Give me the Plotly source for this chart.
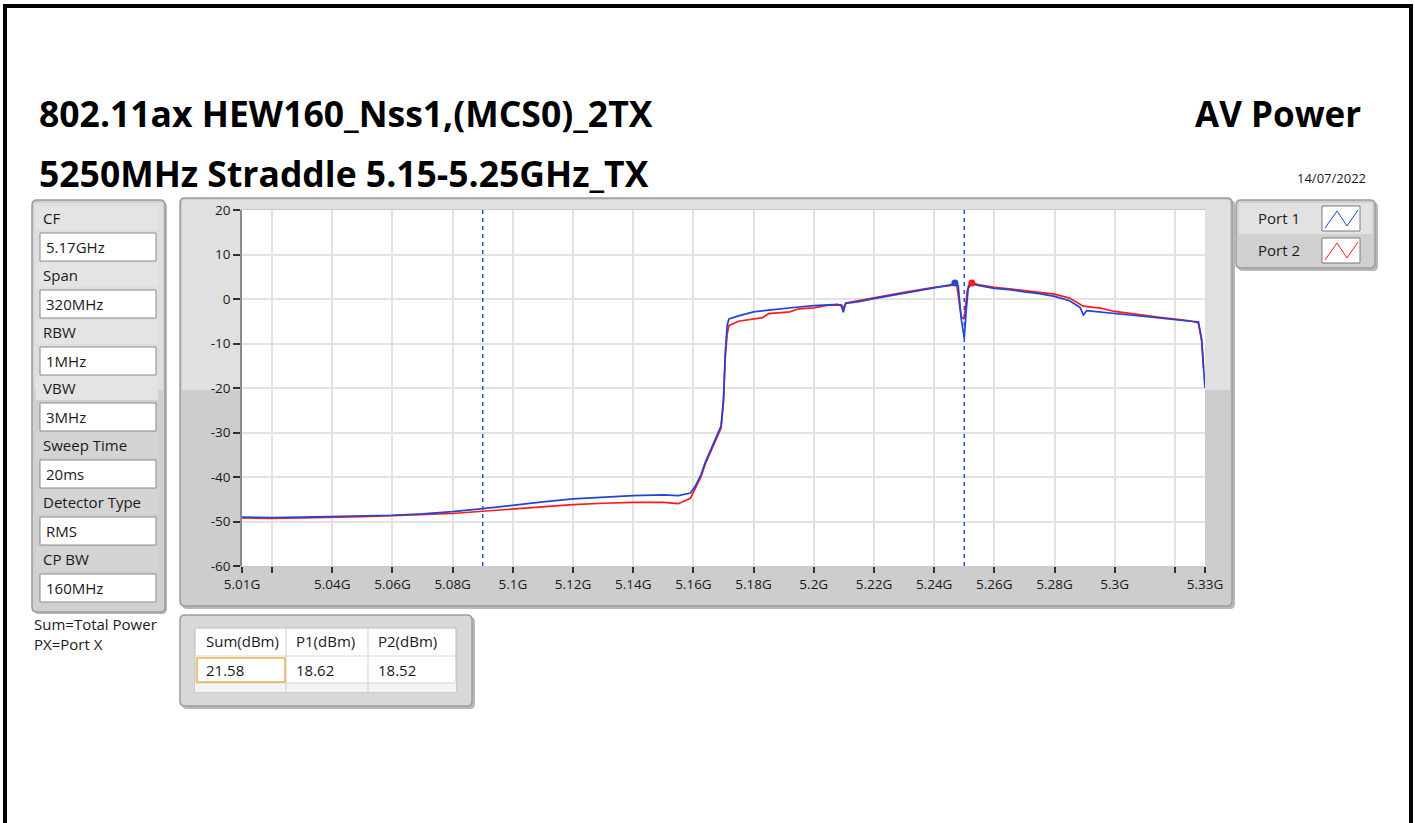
import plotly.graph_objects as go

W, H = 1415, 823

# ---------------- data ----------------
port1_freq = [5.010, 5.020, 5.030, 5.040, 5.050, 5.060, 5.070, 5.080, 5.090, 5.100,
              5.110, 5.120, 5.130, 5.140, 5.150, 5.155, 5.159, 5.1605, 5.1625, 5.164,
              5.166, 5.168, 5.1692, 5.170, 5.1706, 5.1712, 5.1718, 5.175, 5.180, 5.185,
              5.190, 5.195, 5.200, 5.205, 5.208, 5.2092, 5.2098, 5.2106, 5.215, 5.220,
              5.225, 5.230, 5.235, 5.240, 5.245, 5.2469, 5.2480, 5.2490, 5.2500, 5.2506,
              5.2514, 5.2525, 5.255, 5.260, 5.265, 5.270, 5.275, 5.280, 5.285, 5.2885,
              5.2896, 5.2907, 5.295, 5.300, 5.305, 5.310, 5.315, 5.320, 5.325, 5.3278,
              5.3289, 5.3295, 5.3300]
port1_dbm = [-49.0, -49.1, -49.0, -48.9, -48.8, -48.6, -48.3, -47.8, -47.1, -46.3,
             -45.6, -44.9, -44.5, -44.2, -44.0, -44.2, -43.6, -42.2, -39.5, -36.6,
             -33.5, -30.5, -28.5, -22.5, -12.0, -6.0, -4.5, -3.8, -2.9, -2.5,
             -2.1, -1.8, -1.5, -1.4, -1.2, -1.6, -3.0, -1.0, -0.6, 0.1,
             0.7, 1.3, 1.9, 2.4, 3.1, 3.6, 3.0, -4.5, -8.8, -3.0,
             3.0, 3.4, 3.0, 2.4, 2.1, 1.6, 1.2, 0.6, -0.4, -1.9,
             -3.6, -2.6, -2.9, -3.4, -3.6, -3.9, -4.3, -4.6, -5.0, -5.1,
             -9.0, -15.4, -20.0]

port2_freq = [5.010, 5.020, 5.030, 5.040, 5.050, 5.060, 5.070, 5.080, 5.090, 5.100,
              5.110, 5.120, 5.130, 5.140, 5.150, 5.155, 5.159, 5.1605, 5.1625, 5.164,
              5.166, 5.168, 5.1692, 5.170, 5.1706, 5.1712, 5.1718, 5.175, 5.180, 5.183,
              5.185, 5.190, 5.192, 5.195, 5.200, 5.203, 5.205, 5.2092, 5.2098, 5.2106,
              5.215, 5.220, 5.225, 5.230, 5.235, 5.240, 5.245, 5.2475, 5.2490, 5.2500,
              5.2510, 5.2525, 5.255, 5.260, 5.265, 5.270, 5.275, 5.280, 5.285, 5.2896,
              5.2928, 5.295, 5.300, 5.305, 5.310, 5.315, 5.320, 5.325, 5.3278, 5.3289,
              5.3295]
port2_dbm = [-49.2, -49.3, -49.2, -49.1, -48.9, -48.7, -48.5, -48.2, -47.7, -47.2,
             -46.7, -46.2, -45.9, -45.7, -45.7, -46.0, -44.8, -42.8, -40.0, -37.0,
             -34.0, -31.0, -29.0, -23.0, -13.0, -8.0, -6.0, -5.0, -4.4, -4.2,
             -3.3, -3.0, -2.9, -2.2, -2.0, -1.6, -1.4, -1.3, -2.2, -0.9,
             -0.4, 0.3, 0.9, 1.5, 2.1, 2.6, 3.0, 3.2, -4.0, -4.5,
             2.0, 3.6, 3.2, 2.6, 2.3, 1.9, 1.6, 1.1, 0.2, -1.6,
             -1.9, -2.0, -2.8, -3.3, -3.7, -4.1, -4.5, -4.9, -5.4, -9.5,
             -15.5]

peak1 = (5.2469, 3.6)
peak2 = (5.2525, 3.6)
cp_limits = [5.09, 5.25]

x_tickvals = [5.01, 5.02, 5.04, 5.06, 5.08, 5.10, 5.12, 5.14, 5.16, 5.18,
              5.20, 5.22, 5.24, 5.26, 5.28, 5.30, 5.32, 5.33]
x_ticktext = ["5.01G", "", "5.04G", "5.06G", "5.08G", "5.1G", "5.12G", "5.14G", "5.16G", "5.18G",
              "5.2G", "5.22G", "5.24G", "5.26G", "5.28G", "5.3G", "", "5.33G"]
y_tickvals = [20, 10, 0, -10, -20, -30, -40, -50, -60]

settings_labels = ["CF", "Span", "RBW", "VBW", "Sweep Time", "Detector Type", "CP BW"]
settings_values = ["5.17GHz", "320MHz", "1MHz", "3MHz", "20ms", "RMS", "160MHz"]

table_headers = ["Sum(dBm)", "P1(dBm)", "P2(dBm)"]
table_values = ["21.58", "18.62", "18.52"]

title1 = "802.11ax HEW160_Nss1,(MCS0)_2TX"
title2 = "5250MHz Straddle 5.15-5.25GHz_TX"
right_title = "AV Power"
date_text = "14/07/2022"
legend_names = ["Port 1", "Port 2"]

BLUE = "#1f44d6"
RED = "#ff1a1a"
FONT = "Open Sans"


def px(x):
    return x / W


def py(y):
    return 1 - y / H


shapes = []
annotations = []


def rect(x0, y0, x1, y1, fill, line=None, lw=1, layer="below"):
    shapes.append(dict(type="rect", xref="paper", yref="paper",
                       x0=px(x0), x1=px(x1), y0=py(y1), y1=py(y0),
                       fillcolor=fill, layer=layer,
                       line=dict(color=line if line else "rgba(0,0,0,0)", width=lw if line else 0)))


def rrect(x0, y0, x1, y1, r, fill, line=None, lw=1, layer="below"):
    rx, ry = r / W, r / H
    X0, X1, Y0, Y1 = px(x0), px(x1), py(y1), py(y0)
    path = (f"M {X0+rx},{Y1} L {X1-rx},{Y1} Q {X1},{Y1} {X1},{Y1-ry} "
            f"L {X1},{Y0+ry} Q {X1},{Y0} {X1-rx},{Y0} L {X0+rx},{Y0} "
            f"Q {X0},{Y0} {X0},{Y0+ry} L {X0},{Y1-ry} Q {X0},{Y1} {X0+rx},{Y1} Z")
    shapes.append(dict(type="path", xref="paper", yref="paper", path=path,
                       fillcolor=fill, layer=layer,
                       line=dict(color=line if line else "rgba(0,0,0,0)", width=lw if line else 0)))


def text(x, y, s, size=15, anchor="left", bold=False, color="#1a1a1a", font=FONT):
    annotations.append(dict(xref="paper", yref="paper", x=px(x), y=py(y),
                            xanchor=anchor, yanchor="middle", showarrow=False,
                            text=f"<b>{s}</b>" if bold else s,
                            font=dict(family=font, size=size, color=color)))


def pline(pts, color, width=1):
    path = "M " + " L ".join(f"{px(a)},{py(b)}" for a, b in pts)
    shapes.append(dict(type="path", xref="paper", yref="paper", path=path,
                       line=dict(color=color, width=width), layer="above"))


# outer black frame
rect(3, 4, 1413, 8, "#000000")
rect(3, 4, 7, 823, "#000000")
rect(1409, 4, 1413, 823, "#000000")

# titles
text(37, 113, title1, size=35.5, bold=True, color="#000000")
text(1363, 113, right_title, size=35, bold=True, color="#000000", anchor="right")
text(37, 173, title2, size=35.5, bold=True, color="#000000")
text(1368, 178, date_text, size=13, anchor="right")

# ---- left settings panel ----
rrect(34, 202, 167, 614, 5, "#b8b8b8")  # shadow
rrect(32, 200, 165, 612, 5, "#d0d0d0", "#9c9c9c", 1.5)
rect(34, 203, 163, 390, "#dedede")
row_y = [218, 275, 332, 388, 445, 502, 559]
for lab, val, yy in zip(settings_labels, settings_values, row_y):
    rect(36, yy - 12, 158, yy + 12, "#e4e4e4" if yy < 390 else "#d4d4d4")
    text(41, yy, lab, size=15)
    rect(40, yy + 15, 156, yy + 43, "#ffffff", "#8a8a8a", 1)
    text(44, yy + 29, val, size=15)
text(32, 624, "Sum=Total Power", size=15)
text(32, 644, "PX=Port X", size=15)

# ---- graph panel ----
rrect(182, 200, 1235, 609, 5, "#b8b8b8")  # shadow
rrect(180, 198, 1232, 606, 5, "#cdcdcd", "#9c9c9c", 1.5)
rect(182, 200, 1230, 390, "#e0e0e0")
rect(242, 210, 1205, 566, "#ffffff")

# ---- legend panel ----
rrect(1238, 202, 1378, 271, 5, "#b8b8b8")
rrect(1236, 200, 1375, 268, 5, "#d0d0d0", "#9c9c9c", 1.5)
rect(1239, 203, 1372, 234, "#e2e2e2")
rect(1239, 234, 1372, 265, "#d0d0d0")
text(1256, 218, legend_names[0], size=15)
text(1256, 250, legend_names[1], size=15)
rect(1322, 206, 1360, 231, "#ffffff", "#7a7a7a", 1)
rect(1322, 238, 1360, 263, "#ffffff", "#7a7a7a", 1)
pline([(1325, 228), (1337, 211), (1347, 226), (1358, 210)], BLUE, 1)
pline([(1325, 260), (1337, 243), (1347, 258), (1358, 242)], RED, 1)

# ---- table panel ----
rrect(182, 617, 475, 709, 5, "#b8b8b8")
rrect(180, 615, 472, 706, 5, "#d8d8d8", "#9c9c9c", 1.5)
rect(195, 628, 456, 692, "#ffffff", "#bdbdbd", 1)
rect(195, 682, 456, 692, "#f4f4f4")
col_x = [196, 286, 368, 455]
for cx in col_x[1:-1]:
    shapes.append(dict(type="line", xref="paper", yref="paper", x0=px(cx), x1=px(cx),
                       y0=py(692), y1=py(628), line=dict(color="#d0d0d0", width=1), layer="below"))
for ly in (656, 683):
    shapes.append(dict(type="line", xref="paper", yref="paper", x0=px(196), x1=px(455),
                       y0=py(ly), y1=py(ly), line=dict(color="#d8d8d8", width=1), layer="below"))
rect(197, 658, 285, 682, "rgba(0,0,0,0)", "#e6b34a", 1.5, layer="above")
for i, (hd, vl) in enumerate(zip(table_headers, table_values)):
    text(col_x[i] + 8, 641, hd, size=15)
    text(col_x[i] + 8, 670, vl, size=15)

# ---- traces ----
fig = go.Figure()
fig.add_trace(go.Scatter(x=port2_freq, y=port2_dbm, mode="lines",
                         line=dict(color=RED, width=1.7), name=legend_names[1]))
fig.add_trace(go.Scatter(x=port1_freq, y=port1_dbm, mode="lines",
                         line=dict(color=BLUE, width=1.7), name=legend_names[0]))
fig.add_trace(go.Scatter(x=[peak1[0]], y=[peak1[1]], mode="markers",
                         marker=dict(color=BLUE, size=7), showlegend=False))
fig.add_trace(go.Scatter(x=[peak2[0]], y=[peak2[1]], mode="markers",
                         marker=dict(color=RED, size=7), showlegend=False))

for f in cp_limits:
    shapes.append(dict(type="line", xref="x", yref="y", x0=f, x1=f, y0=-60, y1=20,
                       line=dict(color="#2a50d8", width=1.5, dash="4px,4px"), layer="above"))

fig.update_layout(
    template="none",
    width=W, height=H, autosize=False,
    margin=dict(l=0, r=0, t=0, b=0, pad=0, autoexpand=False),
    paper_bgcolor="#ffffff",
    plot_bgcolor="rgba(0,0,0,0)",
    showlegend=False,
    hovermode=False,
    shapes=shapes,
    annotations=annotations,
    xaxis=dict(domain=[px(242), px(1205)], range=[5.01, 5.33], automargin=False,
               tickvals=x_tickvals, ticktext=x_ticktext,
               showgrid=True, gridcolor="#e2e2e2", gridwidth=1.5,
               zeroline=False, showline=True, linecolor="#c8c8c8", mirror=True,
               ticks="outside", ticklen=6, tickcolor="#303030", tickwidth=1.5,
               tickfont=dict(family=FONT, size=13.5, color="#1a1a1a")),
    yaxis=dict(domain=[py(566), py(210)], range=[-60, 20], automargin=False,
               tickvals=y_tickvals, ticktext=[str(v) for v in y_tickvals],
               showgrid=True, gridcolor="#e2e2e2", gridwidth=1.5,
               zeroline=False, showline=True, linecolor="#8a8a8a", linewidth=1.5,
               ticks="outside", ticklen=7, tickcolor="#303030", tickwidth=1.5,
               tickfont=dict(family=FONT, size=13.5, color="#1a1a1a")),
)

fig.write_html("out.html", config={"displayModeBar": False},
               post_script="document.body.style.margin='0px';")
